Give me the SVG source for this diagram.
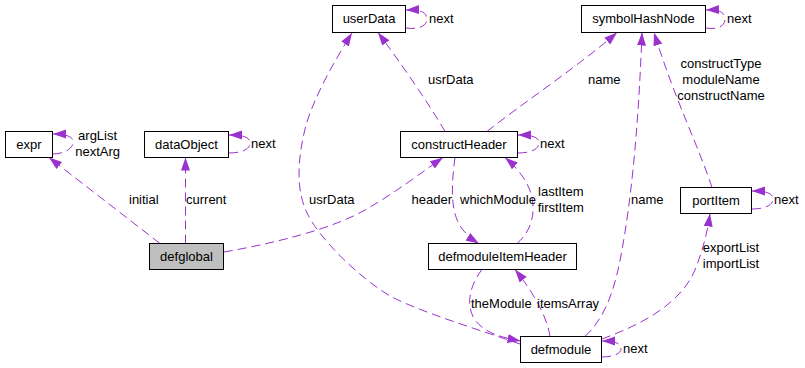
<svg xmlns="http://www.w3.org/2000/svg" width="805" height="368" viewBox="0 0 805 368">
  <defs>
    <style>
      .node rect { fill: #ffffff; stroke: #000000; stroke-width: 1; }
      .node.main rect { fill: #bfbfbf; }
      .node text, .lbl { font-family: "Liberation Sans", Arial, sans-serif; font-size: 13px; fill: #000000; }
      .node text { text-anchor: middle; }
      .edge { fill: none; stroke: #9a32cd; stroke-width: 1; stroke-dasharray: 9,5; marker-end: url(#head); }
      .tail { fill: none; stroke: #9a32cd; stroke-width: 1; stroke-dasharray: 9,5; }
      .mid { text-anchor: middle; }
    </style>
    <marker id="head" markerUnits="userSpaceOnUse" markerWidth="13" markerHeight="10" viewBox="0 0 13 10" refX="13" refY="5" orient="auto">
      <path d="M0,0.5 L13,5 L0,9.5 z" fill="#9a32cd"/>
    </marker>
  </defs>

  <!-- connectors -->
  <g id="edges">
    <!-- self references -->
    <path class="edge" d="M406,28 C418,30 427,26 427,19 C427,12 420,9.5 406,10"/>
    <path class="edge" d="M706,28 C718,30 725,26 725,19 C725,12 719,9.5 706,10"/>
    <path class="edge" d="M53,154 C62,154 72,150 73,143 C74,137 67,134 53,134"/>
    <path class="edge" d="M229,153 C240,153 250,150 250,143 C250,137 243,135 229,135"/>
    <path class="edge" d="M518,153 C529,153 539,150 539,143 C539,137 532,135 518,135"/>
    <path class="edge" d="M752,209 C763,209 773,206 773,199 C773,193 766,191 752,191"/>
    <path class="edge" d="M602,357 C612,357 621,354 621,349 C621,343 615,341 602,341"/>

    <!-- defglobal members -->
    <path class="edge" d="M160,243.5 L49,157.5"/>
    <path class="edge" d="M185.5,243.5 L185.5,157.5"/>
    <path class="edge" d="M224,252 C270,244 330,230 365,210 C395,193 425,170 443,157.5"/>

    <!-- defmodule.usrData -->
    <path class="edge" d="M520,344 C480,330 420,312 390,296 C360,278 320,240 307,213 C296,190 297,160 306,125 C315,95 335,60 352,33"/>

    <!-- constructHeader members -->
    <path class="edge" d="M445,131.5 C430,105 395,55 378,32.5"/>
    <path class="edge" d="M487,131.5 C520,105 580,65 617,32.5"/>
    <path class="edge" d="M455,157.5 C452,180 450,205 458,222 C463,232 470,238 479,243.5"/>

    <!-- defmoduleItemHeader members -->
    <path class="edge" d="M517,243.5 C527,235 534,222 533,205 C532,188 522,172 505,157.5"/>
    <path class="edge" d="M482,269.5 C470,285 465,305 475,320 C485,333 500,337 520.5,341"/>

    <!-- defmodule members -->
    <path class="edge" d="M550,336.5 C548,322 538,298 515,269.5"/>
    <path class="edge" d="M585,336.5 C605,318 615,290 622,250 C630,205 638,140 642,32.5"/>
    <path class="edge" d="M602,339 C640,325 680,305 695,270 C702,252 707,235 710,213.5"/>

    <!-- portItem names -->
    <path class="edge" d="M712,187.5 C700,150 675,100 654,32.5"/>
  </g>

  <!-- connector labels -->
  <g id="edge-labels">
    <text class="lbl" x="429" y="23">next</text>
    <text class="lbl" x="727" y="23">next</text>
    <text class="lbl mid" x="97.6" y="140">argList</text>
    <text class="lbl mid" x="97.6" y="156">nextArg</text>
    <text class="lbl" x="251" y="148">next</text>
    <text class="lbl" x="540" y="148">next</text>
    <text class="lbl" x="774" y="204">next</text>
    <text class="lbl" x="623" y="353">next</text>
    <text class="lbl" x="129" y="204">initial</text>
    <text class="lbl" x="186" y="204">current</text>
    <text class="lbl" x="411.5" y="204">header</text>
    <text class="lbl" x="309" y="204">usrData</text>
    <text class="lbl" x="428" y="84">usrData</text>
    <text class="lbl" x="588" y="84">name</text>
    <text class="lbl" x="460" y="204">whichModule</text>
    <text class="lbl mid" x="560.8" y="196">lastItem</text>
    <text class="lbl mid" x="560.8" y="212">firstItem</text>
    <text class="lbl" x="471" y="308">theModule</text>
    <text class="lbl" x="537" y="308">itemsArray</text>
    <text class="lbl" x="631" y="204">name</text>
    <text class="lbl mid" x="721" y="68">constructType</text>
    <text class="lbl mid" x="721" y="84">moduleName</text>
    <text class="lbl mid" x="721" y="100">constructName</text>
    <text class="lbl mid" x="731" y="252">exportList</text>
    <text class="lbl mid" x="731" y="268">importList</text>
  </g>

  <!-- nodes -->
  <g id="userData" class="node">
    <rect x="332.5" y="5.5" width="73" height="27"/>
    <text x="369" y="23">userData</text>
  </g>
  <g id="symbolHashNode" class="node">
    <rect x="581.5" y="5.5" width="124" height="27"/>
    <text x="643.5" y="23">symbolHashNode</text>
  </g>
  <g id="expr" class="node">
    <rect x="5.5" y="131.5" width="47" height="26"/>
    <text x="29" y="149">expr</text>
  </g>
  <g id="dataObject" class="node">
    <rect x="144.5" y="131.5" width="84" height="26"/>
    <text x="186.5" y="149">dataObject</text>
  </g>
  <g id="constructHeader" class="node">
    <rect x="400.5" y="131.5" width="117" height="26"/>
    <text x="459" y="149">constructHeader</text>
  </g>
  <g id="defglobal" class="node main">
    <rect x="149.5" y="243.5" width="74" height="26"/>
    <text x="186.5" y="261">defglobal</text>
  </g>
  <g id="portItem" class="node">
    <rect x="680.5" y="187.5" width="71" height="26"/>
    <text x="716" y="205">portItem</text>
  </g>
  <g id="defmoduleItemHeader" class="node">
    <rect x="428.5" y="243.5" width="148" height="26"/>
    <text x="502.5" y="261">defmoduleItemHeader</text>
  </g>
  <g id="defmodule" class="node">
    <rect x="520.5" y="336.5" width="81" height="26"/>
    <text x="561" y="354">defmodule</text>
  </g>
</svg>
